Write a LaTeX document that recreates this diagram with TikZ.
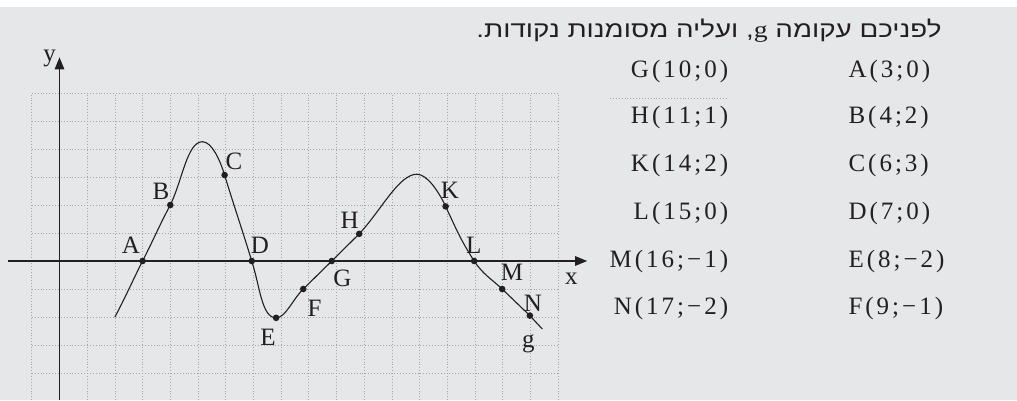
\documentclass[tikz,border=0pt]{standalone}
\usepackage{fontspec}
\usepackage{graphicx}
\setmainfont{Liberation Serif}
\newfontfamily\heb[Script=Hebrew]{Liberation Sans}
\TeXXeTstate=1
\usetikzlibrary{arrows.meta}
\definecolor{bg}{RGB}{230,231,233}
\definecolor{ink}{RGB}{35,31,32}
\definecolor{gridc}{RGB}{165,165,168}
\newcommand\kk{\kern3pt}
\begin{document}
\begin{tikzpicture}[x=1pt,y=-1pt,
  lbl/.style={inner sep=0pt, font=\fontsize{25}{25}\selectfont, text=ink},
  tbl/.style={inner sep=0pt, font=\fontsize{25}{25}\selectfont, text=ink},
  dot/.style={fill=ink},
  gridline/.style={gridc, line width=0.8pt, dash pattern=on 0.8pt off 2.1pt},
  axis/.style={ink, line width=1.2pt, -{Triangle[length=12pt,width=9.5pt]}},
  curve/.style={ink, line width=1.1pt, line join=round}]
\fill[white] (0,0) rectangle (1017,7);
\fill[bg] (0,7) rectangle (1017,400);
\useasboundingbox (0,0) rectangle (1017,400);

\begin{scope}[shift={(59.5,261)}, x=27.7pt, y=28pt]
  % grid
  \foreach \u in {-1,...,18} \draw[gridline] (\u,-4.964) -- (\u,6);
  \foreach \v in {-4,...,6} \draw[gridline] (-1,\v) -- (18,\v);
  % axes
  \coordinate (xs) at (-1.85,0);
  \coordinate (xe) at (19.05,0);
  \coordinate (ys) at (0,-4.964);
  \coordinate (ye) at (0,7.275);
  \draw[axis] (xs) -- (xe);
  \draw[axis] (ys) -- (ye);
  % curve points
  \coordinate (S)  at (2,-2);
  \coordinate (A)  at (3,0);
  \coordinate (B)  at (4,2);
  \coordinate (P1) at (5.16,4.26);
  \coordinate (C)  at (5.96,3.07);
  \coordinate (D)  at (6.94,0);
  \coordinate (E)  at (7.82,-2.03);
  \coordinate (F)  at (8.8,-1);
  \coordinate (G)  at (9.83,0);
  \coordinate (H)  at (10.82,0.97);
  \coordinate (P2) at (12.9,3.1);
  \coordinate (K)  at (13.94,1.95);
  \coordinate (L)  at (14.97,0);
  \coordinate (M)  at (15.98,-1);
  \coordinate (N)  at (16.98,-1.95);
  \coordinate (T)  at (17.43,-2.43);
  \draw[curve] (S) to[out=62,in=243] (A) to[out=63,in=242] (B)
    to[out=64,in=180,in looseness=0.55] (P1)
    to[out=0,in=107,out looseness=0.6] (C)
    to[out=-73,in=107] (D)
    to[out=-72,in=180,out looseness=1.1,in looseness=0.6] (E)
    to[out=0,in=225,out looseness=0.6] (F) -- (G) -- (H)
    to[out=47,in=180,in looseness=0.55] (P2)
    to[out=0,in=115,out looseness=0.6] (K)
    to[out=-65,in=123] (L)
    to[out=-57,in=137] (M) -- (N) -- (T);
  \foreach \p in {A,B,C,D,E,F,G,H,K,L,M,N} \fill[dot] (\p) circle (3.3pt);
\end{scope}

% stray dotted fragment above H(11;1)
\coordinate (sd1) at (610,98.3);
\coordinate (sd2) at (726.7,98.3);
\draw[gridline] (sd1) -- (sd2);

% axis labels
\node[lbl] (ly) at (49.5,58) {y};
\node[lbl] (lx) at (571.3,278.8) {x};
% point labels
\node[lbl] (lA) at (131,245.7) {A};
\node[lbl] (lB) at (161,191) {B};
\node[lbl] (lC) at (234,161) {C};
\node[lbl] (lD) at (260,245.7) {D};
\node[lbl] (lE) at (268,337) {E};
\node[lbl] (lF) at (314.5,308) {F};
\node[lbl] (lG) at (342.5,278.7) {G};
\node[lbl] (lH) at (349.7,220.8) {H};
\node[lbl] (lK) at (450,190) {K};
\node[lbl] (lL) at (473.7,245.8) {L};
\node[lbl] (lM) at (512,272.5) {M};
\node[lbl] (lN) at (533,303.5) {N};
\node[lbl] (lg) at (528.3,343.8) {g};

% title
\node[anchor=base east, inner sep=0pt, text=ink] (title) at (941.7,37)
  {\resizebox{465pt}{18.5pt}{\heb\fontsize{25}{25}\selectfont\beginR לפניכם עקומה \beginL{\rmfamily g}\endL, ועליה מסומנות נקודות.\endR}};

% table, left column
\node[tbl, anchor=base east] (tG) at (728.3,77)    {G\kk(\kk1\kk0\kk;\kk0\kk)};
\node[tbl, anchor=base east] (tH) at (728.3,123.5) {H\kk(\kk1\kk1\kk;\kk1\kk)};
\node[tbl, anchor=base east] (tK) at (728.3,171)   {K\kk(\kk1\kk4\kk;\kk2\kk)};
\node[tbl, anchor=base east] (tL) at (728.3,219.3) {L\kk(\kk1\kk5\kk;\kk0\kk)};
\node[tbl, anchor=base east] (tM) at (728.3,267)   {M\kk(\kk1\kk6\kk;\kk−\kk1\kk)};
\node[tbl, anchor=base east] (tN) at (728.3,314.7) {N\kk(\kk1\kk7\kk;\kk−\kk2\kk)};
% table, right column
\node[tbl, anchor=base west] (tA) at (848.3,77)    {A\kk(\kk3\kk;\kk0\kk)};
\node[tbl, anchor=base west] (tB) at (848.3,123.5) {B\kk(\kk4\kk;\kk2\kk)};
\node[tbl, anchor=base west] (tC) at (848.3,171)   {C\kk(\kk6\kk;\kk3\kk)};
\node[tbl, anchor=base west] (tD) at (848.3,219.3) {D\kk(\kk7\kk;\kk0\kk)};
\node[tbl, anchor=base west] (tE) at (848.3,267)   {E\kk(\kk8\kk;\kk−\kk2\kk)};
\node[tbl, anchor=base west] (tF) at (848.3,314.7) {F\kk(\kk9\kk;\kk−\kk1\kk)};
\end{tikzpicture}
\end{document}
